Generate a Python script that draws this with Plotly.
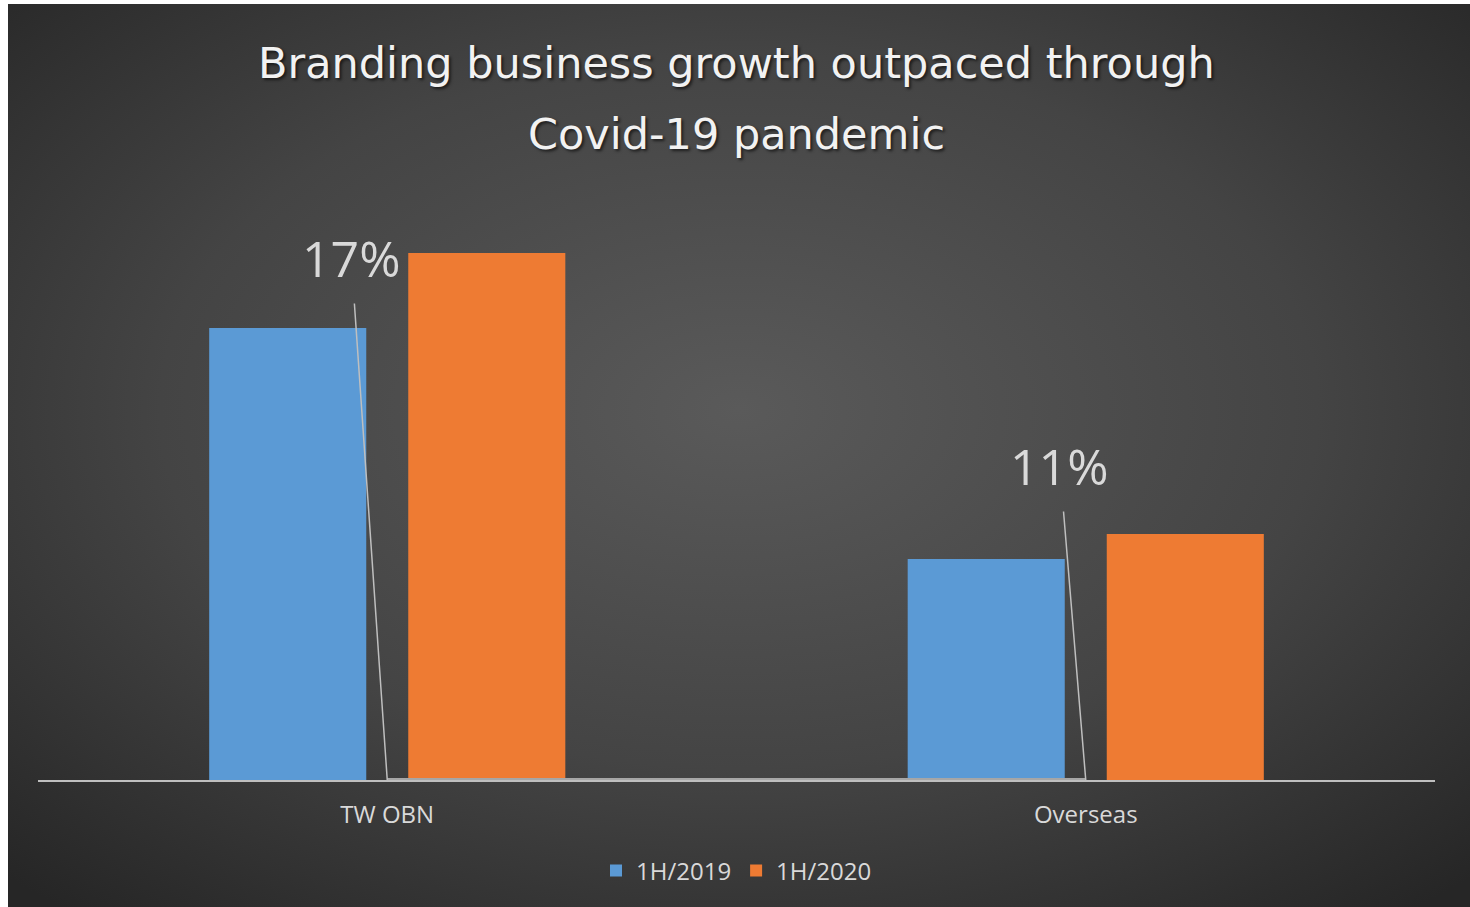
import base64
import plotly.graph_objects as go

categories = ["TW OBN", "Overseas"]
series_names = ["1H/2019", "1H/2020"]
values_2019 = [45.2, 22.1]
values_2020 = [52.7, 24.6]
growth_labels = ["17%", "11%"]
growth_line = [0, 0]

title_lines = ["Branding business growth outpaced through", "Covid-19 pandemic"]

W, H = 1470, 907
ML, MR, MT, MB = 38, 35, 220, 127
PW = W - ML - MR
PH = H - MT - MB

svg = (
    "<svg xmlns='http://www.w3.org/2000/svg' width='1462' height='903'>"
    "<defs><radialGradient id='g' cx='0.5' cy='0.45' r='0.72'>"
    "<stop offset='0' stop-color='#5a5a5a'/>"
    "<stop offset='0.55' stop-color='#444444'/>"
    "<stop offset='1' stop-color='#262626'/>"
    "</radialGradient></defs>"
    "<rect width='100%' height='100%' fill='url(#g)'/></svg>"
)
bg_src = "data:image/svg+xml;base64," + base64.b64encode(svg.encode()).decode()

fig = go.Figure()
fig.add_trace(go.Bar(
    x=categories, y=values_2019, name=series_names[0],
    marker=dict(color="#5b9ad5", line=dict(width=0)),
))
fig.add_trace(go.Bar(
    x=categories, y=values_2020, name=series_names[1],
    marker=dict(color="#ee7b33", line=dict(width=0)),
))
fig.add_trace(go.Scatter(
    x=categories, y=growth_line, mode="lines",
    line=dict(color="#a6a6a6", width=4),
    showlegend=False, cliponaxis=False, hoverinfo="skip",
))

offsets = [(-36, -522), (-26, -314)]
for cat, lab, (ax, ay) in zip(categories, growth_labels, offsets):
    fig.add_annotation(
        x=cat, y=0, xref="x", yref="y", text=lab,
        showarrow=True, arrowhead=0, arrowwidth=1.5, arrowcolor="#bfbfbf",
        ax=ax, ay=ay, startstandoff=10,
        font=dict(family="Open Sans", size=50, color="#d9d9d9"),
    )

title_y = [(MT + PH - 63) / PH, (MT + PH - 134) / PH]
for t, yy in zip(title_lines, title_y):
    fig.add_annotation(
        x=0.5, y=yy, xref="paper", yref="paper", text=t, showarrow=False,
        xanchor="center", yanchor="middle",
        font=dict(family="DejaVu Sans", size=43, color="#f2f2f2",
                  shadow="2px 2px 3px rgba(0,0,0,0.6)"),
    )

fig.add_layout_image(dict(
    source=bg_src, xref="paper", yref="paper",
    x=(8 - ML) / PW, y=(MT + PH - 4) / PH,
    sizex=1462 / PW, sizey=903 / PH,
    sizing="stretch", xanchor="left", yanchor="top", layer="below",
))

fig.update_layout(
    width=W, height=H,
    margin=dict(l=ML, r=MR, t=MT, b=MB),
    paper_bgcolor="white",
    plot_bgcolor="rgba(0,0,0,0)",
    barmode="group", bargap=0.43, bargroupgap=0.211,
    font=dict(family="Open Sans", color="#d9d9d9"),
    showlegend=True,
    legend=dict(
        orientation="h", x=0.5, xanchor="center",
        y=-(871 - (MT + PH)) / PH, yanchor="middle",
        font=dict(size=24, color="#d9d9d9"),
        bgcolor="rgba(0,0,0,0)", traceorder="normal",
        itemwidth=30,
    ),
    xaxis=dict(
        showline=True, linecolor="#bfbfbf", linewidth=2,
        showgrid=False, ticks="", ticklabelstandoff=12,
        tickfont=dict(size=24, color="#d9d9d9"),
    ),
    yaxis=dict(range=[0, PH / 10], visible=False, showgrid=False),
)

fig.write_html("out.html")
